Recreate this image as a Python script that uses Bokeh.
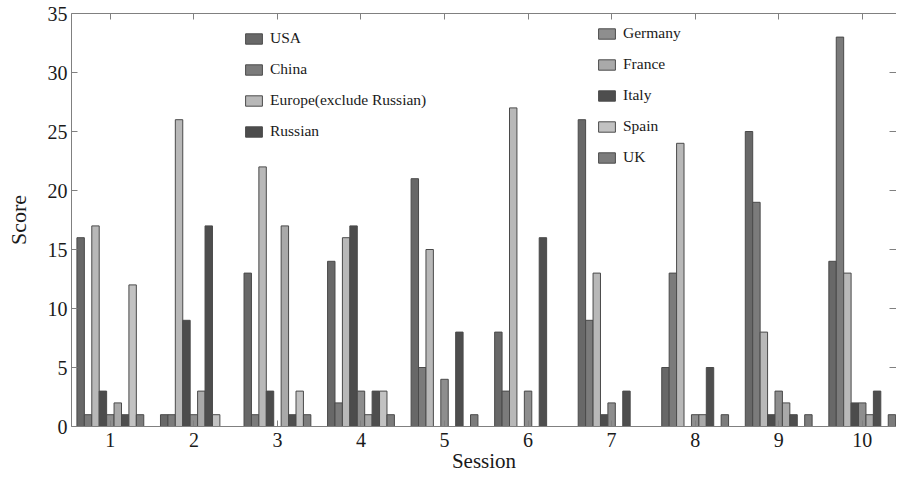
from bokeh.plotting import figure
from bokeh.models import Legend, LegendItem, LinearAxis, FixedTicker, Range1d, ColumnDataSource
from bokeh.transform import dodge
from bokeh.embed import file_html
from bokeh.resources import INLINE

sessions = [1, 2, 3, 4, 5, 6, 7, 8, 9, 10]
usa = [16, 1, 13, 14, 21, 8, 26, 5, 25, 14]
china = [1, 1, 1, 2, 5, 3, 9, 13, 19, 33]
europe = [17, 26, 22, 16, 15, 27, 13, 24, 8, 13]
russian = [3, 9, 3, 17, 0, 0, 1, 0, 1, 2]
germany = [1, 1, 0, 3, 4, 3, 2, 1, 3, 2]
france = [2, 3, 17, 1, 0, 0, 0, 1, 2, 1]
italy = [1, 17, 1, 3, 8, 16, 3, 5, 1, 3]
spain = [12, 1, 3, 3, 0, 0, 0, 0, 0, 0]
uk = [1, 0, 1, 1, 1, 0, 0, 1, 1, 1]

series_keys = ["usa", "china", "europe", "russian", "germany", "france", "italy", "spain", "uk"]
series_labels = ["USA", "China", "Europe(exclude Russian)", "Russian",
                 "Germany", "France", "Italy", "Spain", "UK"]
series_colors = ["#686868", "#7b7b7b", "#b8b8b8", "#4c4c4c",
                 "#8e8e8e", "#a9a9a9", "#4e4e4e", "#c2c2c2", "#7c7c7c"]
y_ticks = [0, 5, 10, 15, 20, 25, 30, 35]

src = ColumnDataSource(dict(session=sessions, usa=usa, china=china, europe=europe,
                            russian=russian, germany=germany, france=france,
                            italy=italy, spain=spain, uk=uk))

FONT = "Liberation Serif"
AX = "#808080"

p = figure(width=896, height=475, output_backend="svg", toolbar_location=None,
           x_range=Range1d(0.535, 10.41), y_range=Range1d(0, 35),
           min_border_left=71, min_border_right=0, min_border_top=13, min_border_bottom=0,
           background_fill_color="white", border_fill_color="white")
p.outline_line_color = None
p.xgrid.visible = False
p.ygrid.visible = False

bw = 0.8 / 9
rs = []
for i, (k, c) in enumerate(zip(series_keys, series_colors)):
    r = p.vbar(x=dodge("session", (i - 4) * bw), top=k, width=bw, bottom=0, source=src,
               fill_color=c, line_color="#4a4a4a", line_width=1)
    rs.append(r)

def style_axis(ax, ticks, labels=True):
    ax.axis_line_color = AX
    ax.major_tick_line_color = AX
    ax.minor_tick_line_color = None
    ax.major_tick_in = 6
    ax.major_tick_out = 0
    ax.major_label_text_font = FONT
    ax.major_label_text_color = "#1a1a1a"
    ax.axis_label_text_font = FONT
    ax.axis_label_text_font_style = "normal"
    ax.axis_label_text_color = "#1a1a1a"
    if not labels:
        ax.major_label_overrides = {t: "" for t in ticks}
        ax.major_label_text_font_size = "1px"
        ax.major_label_standoff = 0

xa = p.xaxis[0]
xa.ticker = FixedTicker(ticks=sessions)
style_axis(xa, sessions)
xa.major_label_text_font_size = "20px"
xa.major_label_standoff = 6
xa.axis_label = "Session"
xa.axis_label_text_font_size = "21px"
xa.axis_label_standoff = -1

ya = p.yaxis[0]
ya.ticker = FixedTicker(ticks=y_ticks)
style_axis(ya, y_ticks)
ya.major_label_text_font_size = "20px"
ya.major_label_standoff = 4
ya.axis_label = "Score"
ya.axis_label_text_font_size = "22px"
ya.axis_label_standoff = 14

top = LinearAxis(ticker=FixedTicker(ticks=sessions))
style_axis(top, sessions, labels=False)
p.add_layout(top, "above")

right = LinearAxis(ticker=FixedTicker(ticks=y_ticks))
style_axis(right, y_ticks, labels=False)
right.axis_line_color = None
right.major_tick_in = 7
p.add_layout(right, "right")

def make_legend(idx, loc):
    return Legend(items=[LegendItem(label=series_labels[i], renderers=[rs[i]]) for i in idx],
                  location=loc, border_line_color=None, background_fill_alpha=0,
                  padding=0, margin=0, spacing=13, glyph_width=21, glyph_height=13,
                  label_height=13, label_standoff=6, label_text_font=FONT,
                  label_text_font_size="15.5px", label_text_color="#1a1a1a")

p.add_layout(make_legend([0, 1, 2, 3], (172, 286)))
p.add_layout(make_legend([4, 5, 6, 7, 8], (525, 260)))

open("out.html", "w").write(file_html(p, INLINE))
